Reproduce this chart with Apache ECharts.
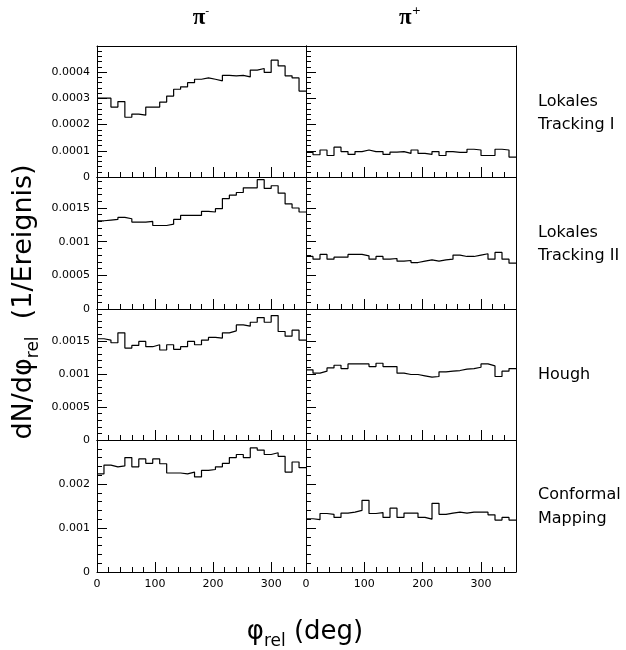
<!DOCTYPE html>
<html><head><meta charset="utf-8">
<script src="https://cdn.jsdelivr.net/npm/echarts@6/dist/echarts.min.js"></script>
<style>html,body{margin:0;padding:0;background:#fff}#c{width:626px;height:650px}</style>
</head><body><div id="c"></div>
<script>
// ---- data ----
const binWidth = 12;            // deg per bin
const nBins = 30;               // 0..360 deg
const columnTitles = ['π', 'π'];
const columnCharges = ['-', '+'];
const rowLabels = [['Lokales', 'Tracking I'], ['Lokales', 'Tracking II'], ['Hough'], ['Conformal', 'Mapping']];
const xTicks = [0, 100, 200, 300];

// row 1: Lokales Tracking I   (values x 1e-4)
const lt1_piMinus = [3.01,3.01,2.67,2.88,2.28,2.40,2.36,2.67,2.67,2.86,3.09,3.35,3.44,3.60,3.73,3.78,3.73,3.67,3.88,3.86,3.88,3.82,4.08,4.14,3.99,4.46,4.24,3.86,3.78,3.28];
const lt1_piPlus  = [0.94,0.85,1.03,0.82,1.14,0.97,0.86,0.97,1.03,0.97,0.97,0.86,0.95,0.97,0.90,1.03,0.90,0.86,0.97,0.82,0.97,0.94,0.94,1.06,1.03,0.82,0.82,1.06,1.03,0.76];
// row 2: Lokales Tracking II  (values x 1e-3)
const lt2_piMinus = [1.31,1.32,1.33,1.36,1.34,1.29,1.29,1.30,1.24,1.24,1.26,1.33,1.39,1.39,1.39,1.45,1.44,1.49,1.64,1.69,1.73,1.80,1.80,1.92,1.79,1.83,1.72,1.56,1.50,1.44];
const lt2_piPlus  = [0.78,0.74,0.81,0.74,0.77,0.77,0.81,0.81,0.79,0.74,0.78,0.74,0.75,0.71,0.72,0.69,0.71,0.73,0.71,0.73,0.74,0.80,0.78,0.78,0.80,0.82,0.74,0.84,0.74,0.68];
// row 3: Hough (values x 1e-3)
const hough_piMinus = [1.53,1.51,1.47,1.62,1.39,1.43,1.49,1.41,1.44,1.36,1.44,1.37,1.41,1.49,1.44,1.51,1.55,1.54,1.62,1.65,1.74,1.72,1.78,1.85,1.78,1.88,1.64,1.57,1.66,1.51];
const hough_piPlus  = [1.06,1.01,1.04,1.09,1.13,1.08,1.15,1.15,1.15,1.11,1.16,1.11,1.11,1.01,0.99,0.99,0.97,0.95,0.96,1.03,1.04,1.05,1.07,1.08,1.10,1.15,1.12,0.96,1.04,1.08];
// row 4: Conformal Mapping (values x 1e-3)
const cm_piMinus = [2.23,2.43,2.39,2.41,2.60,2.39,2.57,2.47,2.57,2.46,2.25,2.25,2.23,2.27,2.16,2.31,2.33,2.39,2.47,2.60,2.67,2.60,2.82,2.77,2.67,2.71,2.63,2.27,2.50,2.37];
const cm_piPlus  = [1.21,1.19,1.33,1.31,1.24,1.34,1.36,1.40,1.63,1.33,1.35,1.24,1.45,1.24,1.34,1.34,1.24,1.20,1.56,1.31,1.34,1.36,1.34,1.36,1.36,1.36,1.30,1.18,1.24,1.18];

const rowScale = [1e-4, 1e-3, 1e-3, 1e-3];
const rowYMax = [0.0005, 0.00196, 0.00198, 0.0030];
const rowYMajor = [0.0001, 0.0005, 0.0005, 0.001];
const rowYMinor = [0.00002, 0.0001, 0.0001, 0.0002];
const histos = [[lt1_piMinus, lt1_piPlus], [lt2_piMinus, lt2_piPlus], [hough_piMinus, hough_piPlus], [cm_piMinus, cm_piPlus]];

// ---- layout ----
const colLeft = [97, 306], colWidth = [209, 210];
const rowTop = [46, 177, 309, 440], rowHeight = [131, 132, 131, 132];
const FONT = 'DejaVu Sans';

const grid = [], xAxis = [], yAxis = [], series = [];
for (let r = 0; r < 4; r++) {
  for (let c = 0; c < 2; c++) {
    const g = grid.length;
    grid.push({left: colLeft[c], top: rowTop[r], width: colWidth[c], height: rowHeight[r], containLabel: false});
    const xBase = {gridIndex: g, type: 'value', min: 0, max: 360, position: 'bottom', splitLine: {show: false},
      axisLine: {show: true, onZero: false, lineStyle: {color: '#000', width: 1}}};
    xAxis.push(Object.assign({}, xBase, {interval: 100,
      axisTick: {show: true, inside: true, length: 10, lineStyle: {color: '#000'}},
      axisLabel: {show: r === 3, showMaxLabel: false, color: '#000', fontFamily: FONT, fontSize: 11, margin: 7}}));
    xAxis.push(Object.assign({}, xBase, {interval: 20, axisLine: {show: false},
      axisTick: {show: true, inside: true, length: 5, lineStyle: {color: '#000'}}, axisLabel: {show: false}}));
    xAxis.push(Object.assign({}, xBase, {position: 'top', axisTick: {show: false}, axisLabel: {show: false}}));
    const yBase = {gridIndex: g, type: 'value', min: 0, max: rowYMax[r], position: 'left', splitLine: {show: false},
      axisLine: {show: true, onZero: false, lineStyle: {color: '#000', width: 1}}};
    yAxis.push(Object.assign({}, yBase, {interval: rowYMajor[r],
      axisTick: {show: true, inside: true, length: 10, lineStyle: {color: '#000'}},
      axisLabel: {show: c === 0, showMaxLabel: false, color: '#000', fontFamily: FONT, fontSize: 11, margin: 7}}));
    yAxis.push(Object.assign({}, yBase, {interval: rowYMinor[r], axisLine: {show: false},
      axisTick: {show: true, inside: true, length: 5, lineStyle: {color: '#000'}}, axisLabel: {show: false}}));
    yAxis.push(Object.assign({}, yBase, {position: 'right', axisTick: {show: false}, axisLabel: {show: false}}));
    const vals = histos[r][c];
    const data = [];
    for (let i = 0; i < nBins; i++) data.push([i * binWidth, vals[i] * rowScale[r]]);
    data.push([nBins * binWidth, vals[nBins - 1] * rowScale[r]]);
    series.push({type: 'line', step: 'end', xAxisIndex: g * 3, yAxisIndex: g * 3, data: data,
      symbol: 'none', lineStyle: {color: '#000', width: 1.2}, silent: true, animation: false, clip: true});
  }
}

const graphic = [];
// column titles
const colTitleX = [201, 410];
for (let c = 0; c < 2; c++) {
  graphic.push({type: 'text', x: colTitleX[c], y: 18, style: {
    text: '{m|' + columnTitles[c] + '}{s|' + columnCharges[c] + '}', textAlign: 'center', textVerticalAlign: 'middle',
    rich: {m: {fontFamily: 'Liberation Serif', fontSize: 23, fontWeight: 'bold', fill: '#000', lineHeight: 24},
           s: {fontFamily: FONT, fontSize: 11, fill: '#000', verticalAlign: 'top'}}}});
}
// row labels
const rowLabelY = [[102, 125], [233, 256], [375], [495, 519]];
for (let r = 0; r < 4; r++) {
  rowLabels[r].forEach((t, k) => graphic.push({type: 'text', x: 538, y: rowLabelY[r][k],
    style: {text: t, fontFamily: FONT, fontSize: 16, fill: '#000', textAlign: 'left', textVerticalAlign: 'middle'}}));
}
// axis titles
graphic.push({type: 'text', x: 24, y: 302, rotation: Math.PI / 2, style: {
  text: '{m|dN/dφ}{s|rel}{m|  (1/Ereignis)}', textAlign: 'center', textVerticalAlign: 'middle',
  rich: {m: {fontFamily: FONT, fontSize: 27, fill: '#000', lineHeight: 36},
         s: {fontFamily: FONT, fontSize: 17, fill: '#000', verticalAlign: 'bottom'}}}});
graphic.push({type: 'text', x: 305, y: 632, style: {
  text: '{m|φ}{s|rel}{m| (deg)}', textAlign: 'center', textVerticalAlign: 'middle',
  rich: {m: {fontFamily: FONT, fontSize: 26, fill: '#000', lineHeight: 36},
         s: {fontFamily: FONT, fontSize: 17, fill: '#000', verticalAlign: 'bottom'}}}});

const chart = echarts.init(document.getElementById('c'), null, {renderer: 'canvas'});
chart.setOption({animation: false, backgroundColor: '#fff', grid, xAxis, yAxis, series, graphic});
</script></body></html>
